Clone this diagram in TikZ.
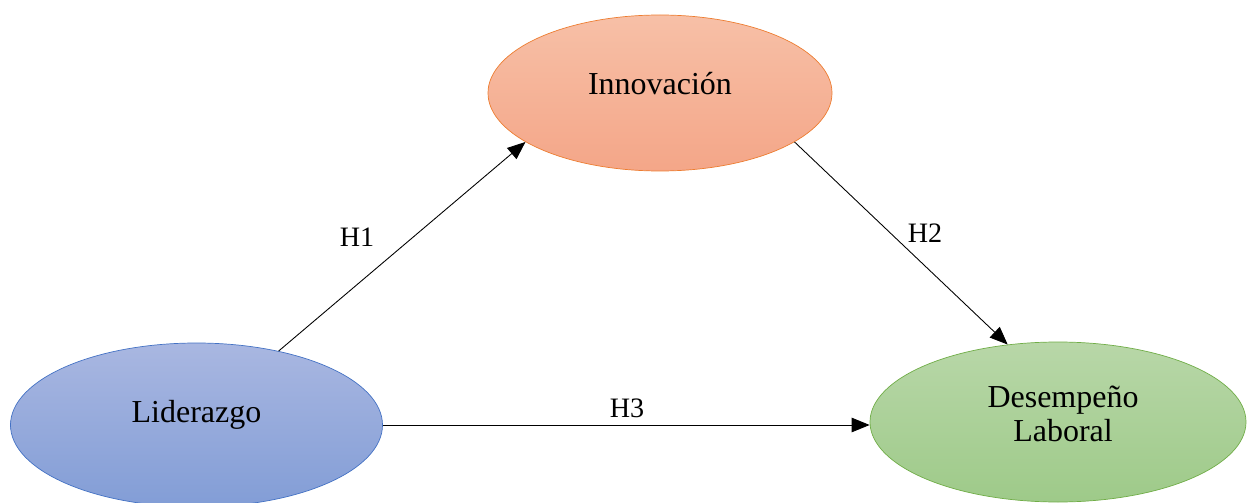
\documentclass[tikz,border=0pt]{standalone}
\usepackage{fontspec}
\setmainfont{Liberation Serif}
\usetikzlibrary{shapes.geometric,arrows.meta}

\definecolor{innline}{RGB}{237,125,49}
\definecolor{inntop}{RGB}{247,192,167}
\definecolor{innbot}{RGB}{244,166,136}
\definecolor{lidline}{RGB}{68,114,196}
\definecolor{lidtop}{RGB}{169,183,225}
\definecolor{lidbot}{RGB}{130,157,214}
\definecolor{desline}{RGB}{112,173,71}
\definecolor{destop}{RGB}{184,215,168}
\definecolor{desbot}{RGB}{158,202,137}

\tikzset{
  var/.style={ellipse, inner sep=0pt, align=center, font=\fontsize{18.2}{19.5}\selectfont},
  hyp/.style={-{Triangle[length=0.36cm, width=0.29cm]}, black, line width=0.5pt},
  hlabel/.style={font=\fontsize{16}{19}\selectfont}
}

\begin{document}
\begin{tikzpicture}

  % frame of the figure
  \useasboundingbox (0,0) rectangle (24.94,10.04);

  % --- Variables ---
  \node[var, draw=innline, top color=inntop, bottom color=innbot,
        minimum width=6.88cm, minimum height=3.12cm] (inn) at (13.2,8.18) {};
  \node[var] (inntxt) at (13.2,8.36) {Innovación};
  \node[var, draw=lidline, top color=lidtop, bottom color=lidbot,
        minimum width=7.44cm, minimum height=3.28cm] (lid) at (3.93,1.54) {};
  \node[var] (lidtxt) at (3.93,1.74) {Liderazgo};
  \node[var, draw=desline, top color=destop, bottom color=desbot,
        minimum width=7.52cm, minimum height=3.2cm] (des) at (21.16,1.6) {};
  \node[var] (destxt) at (21.26,1.76) {Desempeño\\Laboral};

  % --- Hypotheses ---
  \draw[hyp] (lid.42) -- (inn.200);
  \draw[hyp] (inn.-20) -- (des.123);
  \draw[hyp] (lid.east) -- (lid.east -| des.west);

  % labels
  \node[hlabel] (h1) at (7.14,5.3) {H1};
  \node[hlabel] (h2) at (18.5,5.38) {H2};
  \node[hlabel] (h3) at (12.54,1.88) {H3};
\end{tikzpicture}
\end{document}
